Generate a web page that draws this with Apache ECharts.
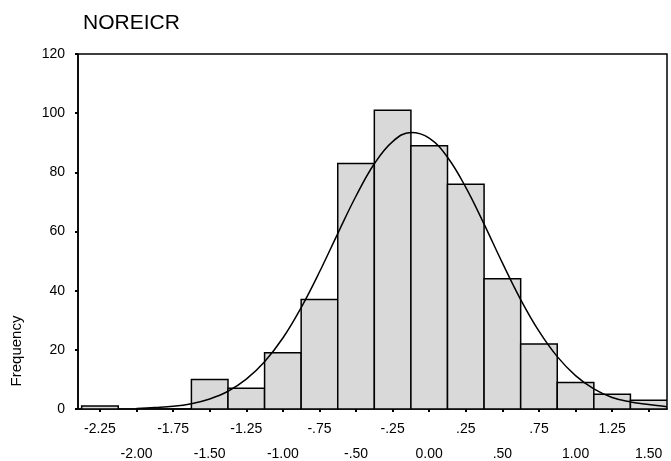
<!DOCTYPE html>
<html>
<head>
<meta charset="utf-8">
<style>
  html, body { margin: 0; padding: 0; background: #fff; }
  #chart { width: 671px; height: 461px; }
</style>
<script src="https://cdn.jsdelivr.net/npm/echarts@6.0.0/dist/echarts.min.js"></script>
</head>
<body>
<div id="chart"></div>
<script>
// Histogram of NOREICR: bin centres (width .25) and counts
const binCenters = [-2.25, -2.00, -1.75, -1.50, -1.25, -1.00, -0.75, -0.50, -0.25, 0.00, 0.25, 0.50, 0.75, 1.00, 1.25, 1.50];
const binCounts  = [1, 0, 0, 10, 7, 19, 37, 83, 101, 89, 76, 44, 22, 9, 5, 3];
const binWidth = 0.25;

// Fitted normal curve, sampled along the axis
const curveX = [-2.0, -1.875, -1.75, -1.625, -1.5, -1.375, -1.25, -1.125, -1.0, -0.875, -0.75, -0.625, -0.5, -0.375, -0.25, -0.125, 0.0, 0.125, 0.25, 0.375, 0.5, 0.625, 0.75, 0.875, 1.0, 1.125, 1.25, 1.375, 1.5, 1.625];
const curveY = [0.2, 0.5, 0.9, 1.8, 3.4, 6.0, 10.1, 16.0, 24.0, 34.3, 46.3, 59.3, 72.0, 82.9, 90.4, 93.5, 91.6, 85.1, 74.9, 62.5, 49.4, 37.0, 26.3, 17.7, 11.3, 6.8, 3.9, 2.4, 1.5, 0.8];

// Axis tick labels
const xTickValues = [-2.25, -2.00, -1.75, -1.50, -1.25, -1.00, -0.75, -0.50, -0.25, 0.00, 0.25, 0.50, 0.75, 1.00, 1.25, 1.50];
const xTickLabels = ['-2.25', '-2.00', '-1.75', '-1.50', '-1.25', '-1.00', '-.75', '-.50', '-.25', '0.00', '.25', '.50', '.75', '1.00', '1.25', '1.50'];

const FONT = '"Liberation Sans", Arial, sans-serif';

const chart = echarts.init(document.getElementById('chart'), null, { renderer: 'canvas' });

const barData = binCenters.map((c, i) => [c, binCounts[i]]);
const curveData = curveX.map((x, i) => [x, curveY[i]]);

chart.setOption({
  animation: false,
  backgroundColor: '#fff',
  title: {
    text: 'NOREICR',
    left: 78,
    top: 8,
    textStyle: { fontFamily: FONT, fontSize: 21, fontWeight: 'normal', color: '#000' }
  },
  graphic: [{
    type: 'text',
    x: 9,
    y: 351,
    rotation: Math.PI / 2,
    style: {
      text: 'Frequency',
      font: '15px ' + FONT,
      fill: '#000',
      align: 'center',
      verticalAlign: 'top'
    }
  }],
  grid: {
    left: 78, right: 4, top: 54, bottom: 52,
    outerBoundsMode: 'none',
    containLabel: false,
    show: true, borderColor: '#000', borderWidth: 1.5, backgroundColor: '#fff'
  },
  xAxis: {
    type: 'value',
    min: -2.4,
    max: 1.625,
    splitLine: { show: false },
    axisLine: { show: true, onZero: false, lineStyle: { color: '#000', width: 1.5 } },
    axisTick: {
      show: true, length: 3, customValues: xTickValues,
      lineStyle: { color: '#000', width: 2 }
    },
    axisLabel: {
      customValues: xTickValues,
      margin: 8,
      fontFamily: FONT,
      fontSize: 14,
      color: '#000',
      lineHeight: 25,
      formatter: function (value) {
        const i = xTickValues.findIndex(v => Math.abs(v - value) < 1e-6);
        const t = xTickLabels[i];
        return i % 2 === 0 ? t : '\n' + t;
      }
    }
  },
  yAxis: {
    type: 'value',
    min: 0,
    max: 120,
    interval: 20,
    splitLine: { show: false },
    axisLine: { show: true, onZero: false, lineStyle: { color: '#000', width: 1.5 } },
    axisTick: { show: true, length: 3, lineStyle: { color: '#000', width: 2 } },
    axisLabel: { margin: 13, fontFamily: FONT, fontSize: 14, color: '#000' }
  },
  series: [
    {
      type: 'custom',
      data: barData,
      clip: true,
      renderItem: function (params, api) {
        const c = api.value(0);
        const n = api.value(1);
        if (n <= 0) return null;
        const p0 = api.coord([c - binWidth / 2, n]);
        const p1 = api.coord([c + binWidth / 2, 0]);
        return {
          type: 'rect',
          shape: { x: p0[0], y: p0[1], width: p1[0] - p0[0], height: p1[1] - p0[1] },
          style: { fill: '#d9d9d9', stroke: '#000', lineWidth: 1.5 }
        };
      },
      encode: { x: 0, y: 1 },
      z: 2
    },
    {
      type: 'line',
      data: curveData,
      smooth: 0.4,
      showSymbol: false,
      symbol: 'none',
      lineStyle: { color: '#000', width: 1.5 },
      z: 3
    }
  ]
});
</script>
</body>
</html>
